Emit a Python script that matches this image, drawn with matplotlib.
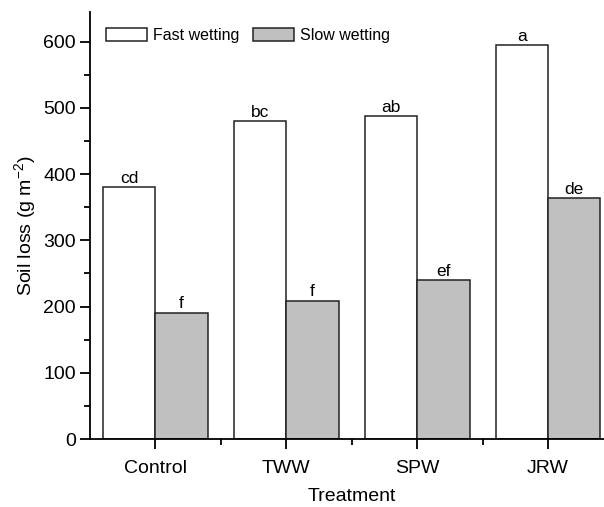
import numpy as np
import matplotlib.pyplot as plt
from matplotlib.ticker import MultipleLocator, FixedLocator

plt.rcParams['font.family'] = ['Liberation Sans', 'DejaVu Sans']
plt.rcParams['mathtext.default'] = 'regular'

# 데이터
treatments = ['Control', 'TWW', 'SPW', 'JRW']
fast_wetting = [380, 480, 488, 595]
slow_wetting = [191, 209, 240, 364]
fast_letters = ['cd', 'bc', 'ab', 'a']
slow_letters = ['f', 'f', 'ef', 'de']

W, H = 604, 507
fig = plt.figure(figsize=(W / 100, H / 100), dpi=100)
ax = fig.add_axes([90 / W, (H - 439) / H, (613.5 - 90) / W, (439 - 12) / H])

x = np.arange(len(treatments))
width = 0.4
b1 = ax.bar(x - width / 2, fast_wetting, width, color='white', edgecolor='#222222',
            linewidth=1.1, label='Fast wetting')
b2 = ax.bar(x + width / 2, slow_wetting, width, color='#c0c0c0', edgecolor='#222222',
            linewidth=1.1, label='Slow wetting')

for bars, letters in ((b1, fast_letters), (b2, slow_letters)):
    for bar, lab in zip(bars, letters):
        ax.annotate(lab, xy=(bar.get_x() + bar.get_width() / 2, bar.get_height()),
                    xytext=(0, 1), textcoords='offset points',
                    ha='center', va='bottom', fontsize=12.5)

ax.set_xlim(-0.5, 3.5)
ax.set_ylim(0, 645)
ax.set_xticks(x)
ax.set_xticklabels(treatments, fontsize=14)
ax.xaxis.set_minor_locator(FixedLocator([0.5, 1.5, 2.5]))
ax.yaxis.set_major_locator(MultipleLocator(100))
ax.yaxis.set_minor_locator(MultipleLocator(50))
ax.tick_params(axis='y', labelsize=14)
ax.tick_params(which='major', direction='out', length=7, width=1.3, pad=3)
ax.tick_params(axis='x', which='major', pad=8)
ax.tick_params(which='minor', direction='out', length=4, width=1.3)

for s in ('top', 'right'):
    ax.spines[s].set_visible(False)
for s in ('left', 'bottom'):
    ax.spines[s].set_linewidth(1.3)

ax.set_xlabel('Treatment', fontsize=14, labelpad=8)
ax.set_ylabel('Soil loss (g m$^{-2}$)', fontsize=14, labelpad=4)

ax.legend(loc='upper left', ncol=2, frameon=False, fontsize=11.5,
          bbox_to_anchor=(0.012, 0.985), handlelength=2.6, handleheight=0.9,
          handletextpad=0.35, columnspacing=0.85, borderaxespad=0.2)

plt.savefig('out.png', dpi=100)
